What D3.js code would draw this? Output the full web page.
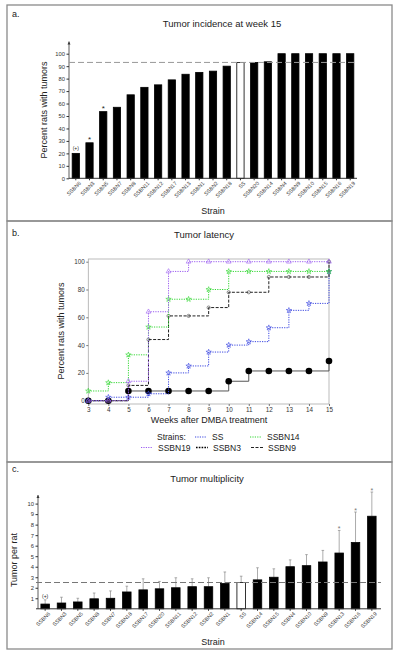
<!DOCTYPE html>
<html><head><meta charset="utf-8">
<script src="https://cdn.jsdelivr.net/npm/d3@7"></script>
<style>body{margin:0;background:#fff}text{font-family:"Liberation Sans",Arial,sans-serif}</style>
</head><body><svg id="c" width="400" height="659"></svg>
<script>
// ---- Panel a data ----
const strainsA = ["SSBN6","SSBN3","SSBN5","SSBN7","SSBN8","SSBN11","SSBN12","SSBN17","SSBN13","SSBN1","SSBN2","SSBN18","SS","SSBN20","SSBN14","SSBN4","SSBN9","SSBN10","SSBN15","SSBN16","SSBN19"];
const incidenceA = [20,28.5,53.5,57,67,73,75,79,83.5,85,86,90,93,93,93.5,100,100,100,100,100,100];
const refA = 93;
const ticksA = [0,10,20,30,40,50,60,70,80,90,100];
// ---- Panel b data ----
const weeks = [3,4,5,6,7,8,9,10,11,12,13,14,15];
const latSS     = [0,2.5,2.5,5,20,25,35,40,42.5,52.5,65,70,93];
const latSSBN14 = [7,13,33,53,73,73,80,93,93,93,93,93,93];
const latSSBN19 = [0,0,14,64,93,100,100,100,100,100,100,100,100];
const latSSBN3  = [0,0,7,7,7,7,7,14,21.4,21.4,21.4,21.4,28.6];
const latSSBN9  = [0,0,11,44,61,61,67,78,78,89,89,89,100];
const ticksB = [0,20,40,60,80,100];
// ---- Panel c data ----
const strainsC = ["SSBN6","SSBN3","SSBN5","SSBN8","SSBN7","SSBN18","SSBN17","SSBN20","SSBN11","SSBN12","SSBN2","SSBN1","SS","SSBN14","SSBN15","SSBN4","SSBN10","SSBN9","SSBN13","SSBN16","SSBN19"];
const multC = [0.45,0.55,0.65,0.95,1.0,1.6,1.8,1.9,2.0,2.1,2.1,2.4,2.5,2.75,3.0,4.0,4.1,4.45,5.3,6.3,8.8];
const errTopC = [0.85,1.1,1.0,1.5,1.7,2.15,2.85,2.6,2.95,2.85,2.95,3.5,3.1,3.9,3.8,4.65,5.15,5.55,7.45,9.2,11.1];
const refC = 2.5;
const ticksC = [1,2,3,4,5,6,7,8,9,10];

const svg = d3.select("#c");
const grey = "#8a8a8a";
// panel borders
[[7,5,385,216],[7,221,385,241],[7,462,385,187]].forEach(b=>{
  svg.append("rect").attr("x",b[0]).attr("y",b[1]).attr("width",b[2]).attr("height",b[3])
    .attr("fill","none").attr("stroke",grey).attr("stroke-width",1.3);
});
function txt(x,y,s,size,opts={}){
  const t=svg.append("text").attr("x",x).attr("y",y).text(s).attr("font-size",size).attr("fill",opts.fill||"#222");
  if(opts.anchor) t.attr("text-anchor",opts.anchor);
  if(opts.rot!==undefined) t.attr("transform",`rotate(${opts.rot},${x},${y})`);
  return t;
}
function arrowAxis(x,y0,y1){
  svg.append("line").attr("x1",x).attr("x2",x).attr("y1",y0).attr("y2",y1).attr("stroke","#333").attr("stroke-width",0.8);
  svg.append("path").attr("d",`M${x-1.5},${y1+3}L${x},${y1}L${x+1.5},${y1+3}Z`).attr("fill","#333");
}

// ===== Panel a =====
txt(12,17,"a.",9);
txt(222,27,"Tumor incidence at week 15",9.5,{anchor:"middle"});
const xa = d3.scaleBand().domain(strainsA).range([69,357]).paddingInner(0.47).paddingOuter(0.23);
const ya = d3.scaleLinear().domain([0,100]).range([178.3,53.7]);
arrowAxis(69,178.3,41.5);
const gay = svg.append("g").attr("transform","translate(69,0)").call(d3.axisLeft(ya).tickValues(ticksA).tickSize(2.5).tickPadding(1.5));
gay.select(".domain").remove();
gay.selectAll("text").attr("font-size",5.8).attr("fill","#333");
gay.selectAll("line").attr("stroke","#333");
svg.selectAll(".ba").data(strainsA).join("rect")
  .attr("x",d=>xa(d)).attr("width",xa.bandwidth())
  .attr("y",(d,i)=>ya(incidenceA[i])).attr("height",(d,i)=>ya(0)-ya(incidenceA[i]))
  .attr("fill",d=>d==="SS"?"#fff":"#000").attr("stroke","#000").attr("stroke-width",0.8);
svg.append("line").attr("x1",69).attr("x2",357).attr("y1",ya(refA)).attr("y2",ya(refA))
  .attr("stroke","#999").attr("stroke-width",1).attr("stroke-dasharray","6,3");
const gax = svg.append("g").attr("transform","translate(0,178.3)").call(d3.axisBottom(xa).tickSize(2).tickPadding(1));
gax.select(".domain").attr("stroke","#333").attr("d","M69,0H357");
gax.selectAll("line").attr("stroke","#333");
gax.selectAll("text").attr("font-size",5.3).attr("fill","#333").attr("text-anchor","end")
  .attr("transform","translate(2,2) rotate(-45)").attr("dy","0.35em");
txt(xa("SSBN6")+xa.bandwidth()/2,ya(20)-3,"(+)",5,{anchor:"middle"});
["SSBN3","SSBN5"].forEach(s=>{const i=strainsA.indexOf(s);txt(xa(s)+xa.bandwidth()/2,ya(incidenceA[i])-1,"*",8,{anchor:"middle"});});
txt(47,110,"Percent rats with tumors",9,{anchor:"middle",rot:-90});
txt(213,214,"Strain",9,{anchor:"middle"});

// ===== Panel b =====
txt(12,236,"b.",9);
txt(204,238,"Tumor latency",9.5,{anchor:"middle"});
const xb = d3.scaleLinear().domain([3,15]).range([88.3,329]);
const yb = d3.scaleLinear().domain([0,100]).range([400.7,261.7]);
svg.append("rect").attr("x",88.3).attr("y",259).attr("width",329-88.3).attr("height",404-259)
  .attr("fill","none").attr("stroke","#aaa").attr("stroke-width",0.8);
const gby = svg.append("g").attr("transform","translate(88.3,0)").call(d3.axisLeft(yb).tickValues(ticksB).tickSize(2).tickPadding(1.5));
gby.select(".domain").remove();
gby.selectAll("text").attr("font-size",6.3).attr("fill","#333");
gby.selectAll("line").attr("stroke","#777");
const gbx = svg.append("g").attr("transform","translate(0,404)").call(d3.axisBottom(xb).tickValues(weeks).tickFormat(d3.format("d")).tickSize(2).tickPadding(1.5));
gbx.select(".domain").remove();
gbx.selectAll("text").attr("font-size",6.3).attr("fill","#333");
gbx.selectAll("line").attr("stroke","#777");
const series = [
  {name:"SSBN3", v:latSSBN3, c:"#555", dash:null, w:1, m:"big"},
  {name:"SS", v:latSS, c:"#3a46e0", dash:"1.2,1.2", w:1, m:"star"},
  {name:"SSBN9", v:latSSBN9, c:"#222", dash:"3,1.5", w:1, m:"circ"},
  {name:"SSBN14", v:latSSBN14, c:"#33d633", dash:"1.2,1.2", w:1, m:"star"},
  {name:"SSBN19", v:latSSBN19, c:"#9b5cf0", dash:"1.2,1.2", w:1, m:"tri"}
];
const lineB = d3.line().x((d,i)=>xb(weeks[i])).y(d=>yb(d)).curve(d3.curveStepAfter);
series.forEach(s=>{
  svg.append("path").attr("d",lineB(s.v)).attr("fill","none").attr("stroke",s.c)
    .attr("stroke-width",s.w).attr("stroke-dasharray",s.dash);
  const g=svg.append("g");
  s.v.forEach((v,i)=>{
    const x=xb(weeks[i]), y=yb(v);
    if(s.m==="big") g.append("circle").attr("cx",x).attr("cy",y).attr("r",3.3).attr("fill","#000");
    else if(s.m==="circ") g.append("circle").attr("cx",x).attr("cy",y).attr("r",1.6).attr("fill","none").attr("stroke","#444").attr("stroke-width",0.6);
    else if(s.m==="tri") g.append("path").attr("d",d3.symbol(d3.symbolTriangle,10)()).attr("transform",`translate(${x},${y})`).attr("fill","none").attr("stroke",s.c).attr("stroke-width",0.6);
    else g.append("path").attr("d",d3.symbol(d3.symbolStar,9)()).attr("transform",`translate(${x},${y})`).attr("fill","none").attr("stroke",s.c).attr("stroke-width",0.6);
  });
});
txt(64,331,"Percent rats with tumors",9,{anchor:"middle",rot:-90});
txt(209,423,"Weeks after DMBA treatment",9,{anchor:"middle"});
// legend
txt(157,440,"Strains:",8.5);
const leg = [
  {x:195,y:437,s:series[1],label:"SS"},
  {x:250,y:437,s:series[3],label:"SSBN14"},
  {x:141,y:447.5,s:series[4],label:"SSBN19"},
  {x:196,y:447.5,s:series[0],label:"SSBN3"},
  {x:251,y:447.5,s:series[2],label:"SSBN9"}
];
leg.forEach(l=>{
  svg.append("line").attr("x1",l.x).attr("x2",l.x+12).attr("y1",l.y).attr("y2",l.y)
    .attr("stroke",l.label==="SSBN3"?"#000":l.s.c).attr("stroke-width",l.label==="SSBN3"?1.6:1.1)
    .attr("stroke-dasharray",l.label==="SSBN3"?"1.6,1.2":(l.s.dash||null));
  txt(l.x+17,l.y+3,l.label,8.5);
});

// ===== Panel c =====
txt(12,472,"c.",9);
txt(207,482,"Tumor multiplicity",9.5,{anchor:"middle"});
const xc = d3.scaleBand().domain(strainsC).range([36,381]).paddingInner(0.48).paddingOuter(0.3);
const yc = d3.scaleLinear().domain([0,10]).range([608.8,503.6]);
arrowAxis(38,608.8,495);
const gcy = svg.append("g").attr("transform","translate(38,0)").call(d3.axisLeft(yc).tickValues(ticksC).tickSize(2.5).tickPadding(1.5));
gcy.select(".domain").remove();
gcy.selectAll("text").attr("font-size",5.8).attr("fill","#333");
gcy.selectAll("line").attr("stroke","#333");
// error bars
svg.selectAll(".ec").data(strainsC).join("g").each(function(d,i){
  const cx=xc(d)+xc.bandwidth()/2, g=d3.select(this);
  g.append("line").attr("x1",cx).attr("x2",cx).attr("y1",yc(multC[i])).attr("y2",yc(errTopC[i])).attr("stroke","#888").attr("stroke-width",0.7);
  g.append("line").attr("x1",cx-1.3).attr("x2",cx+1.3).attr("y1",yc(errTopC[i])).attr("y2",yc(errTopC[i])).attr("stroke","#888").attr("stroke-width",0.7);
});
svg.selectAll(".bc").data(strainsC).join("rect")
  .attr("x",d=>xc(d)).attr("width",xc.bandwidth())
  .attr("y",(d,i)=>yc(multC[i])).attr("height",(d,i)=>yc(0)-yc(multC[i]))
  .attr("fill",d=>d==="SS"?"#fff":"#000").attr("stroke","#000").attr("stroke-width",0.8);
svg.append("line").attr("x1",36).attr("x2",381).attr("y1",yc(refC)).attr("y2",yc(refC))
  .attr("stroke","#777").attr("stroke-width",1).attr("stroke-dasharray","6,3");
const gcx = svg.append("g").attr("transform","translate(0,608.8)").call(d3.axisBottom(xc).tickSize(2).tickPadding(1));
gcx.select(".domain").attr("stroke","#333").attr("d","M36,0H381");
gcx.selectAll("line").attr("stroke","#333");
gcx.selectAll("text").attr("font-size",5.3).attr("fill","#333").attr("text-anchor","end")
  .attr("transform","translate(2,2) rotate(-45)").attr("dy","0.35em");
txt(xc("SSBN6")+xc.bandwidth()/2,yc(errTopC[0])-2,"(+)",5,{anchor:"middle"});
["SSBN13","SSBN16","SSBN19"].forEach(s=>{const i=strainsC.indexOf(s);txt(xc(s)+xc.bandwidth()/2,yc(errTopC[i])+1,"*",7,{anchor:"middle",fill:"#777"});});
txt(17,560,"Tumor per rat",9,{anchor:"middle",rot:-90});
txt(213,645,"Strain",9,{anchor:"middle"});
</script></body></html>
